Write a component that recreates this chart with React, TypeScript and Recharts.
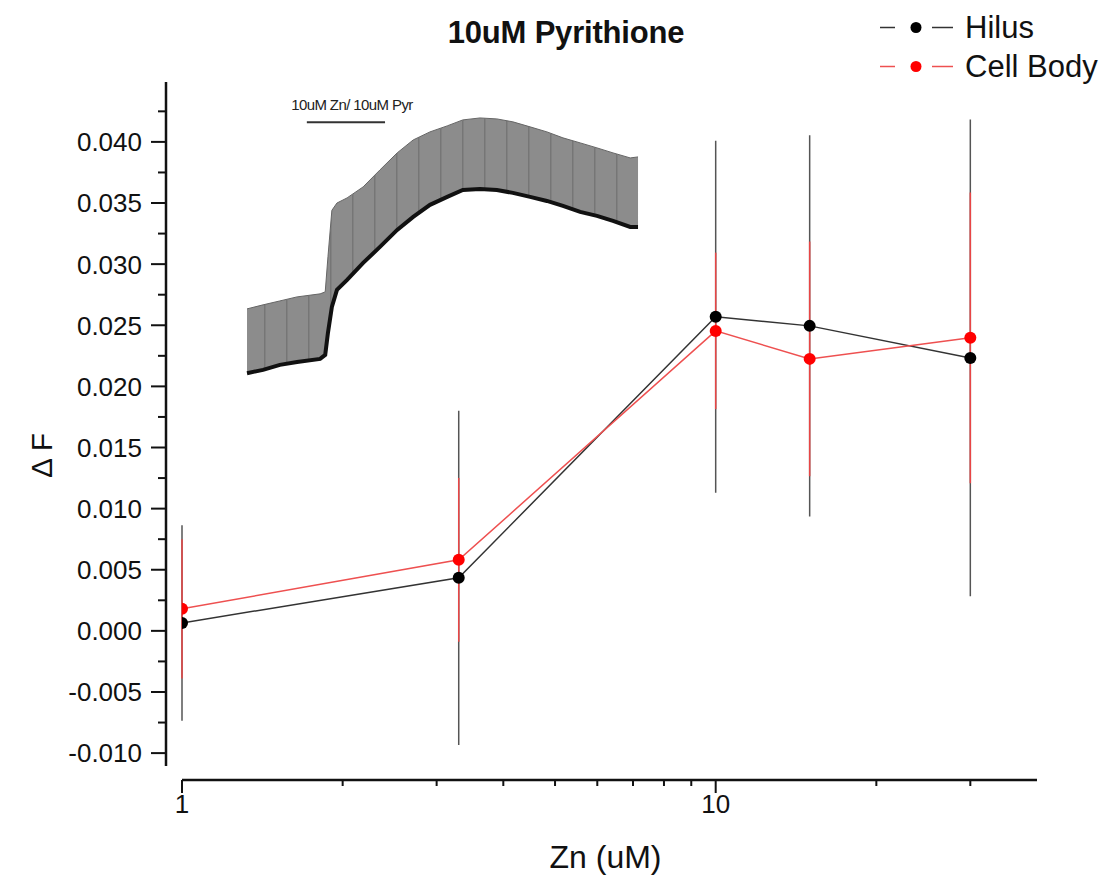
import React from 'react';
import { ComposedChart, Line, Area, XAxis, YAxis, ErrorBar, ReferenceLine, Legend } from 'recharts';

const FONT = "'Liberation Sans', Arial, sans-serif";

// Zn concentrations (uM) and mean ± error for each region
const zinc = [1, 3.3, 10, 15, 30];
const hilusMean = [0.00065, 0.00434, 0.02569, 0.02495, 0.02233];
const hilusErr = [0.008, 0.01367, 0.0144, 0.0156, 0.0195];
const cellMean = [0.0018, 0.00581, 0.02454, 0.02225, 0.02397];
const cellErr = [0.0057, 0.0067, 0.0064, 0.0096, 0.0119];

const xTicks = [1, 2, 3, 4, 5, 6, 7, 8, 9, 10, 20, 30];
const xLabeled = [1, 10];
const yTicks = [
  -0.01, -0.0075, -0.005, -0.0025, 0, 0.0025, 0.005, 0.0075, 0.01, 0.0125, 0.015,
  0.0175, 0.02, 0.0225, 0.025, 0.0275, 0.03, 0.0325, 0.035, 0.0375, 0.04, 0.0425,
];

// example fluorescence trace shown as inset (time in s, lower / upper envelope)
const traceTime = [
  0, 4.1, 8.4, 12.8, 18.7, 20.0, 20.7, 21.7, 23.0, 25.6, 29.7, 34.0, 38.4, 42.5,
  46.8, 51.2, 55.2, 59.6, 63.9, 68.0, 72.4, 76.7, 80.8, 85.2, 89.5, 93.6, 98.0, 100,
];
const traceLow = [
  0.02108, 0.02135, 0.02176, 0.022, 0.02225, 0.02258, 0.02438, 0.0265, 0.02789, 0.02871,
  0.0301, 0.03141, 0.0328, 0.03387, 0.03485, 0.0355, 0.03607, 0.03615, 0.03607, 0.03583,
  0.0355, 0.03517, 0.03476, 0.03427, 0.03395, 0.03354, 0.03304, 0.03304,
];
const traceHigh = [
  0.02634, 0.02667, 0.02699, 0.02732, 0.02757, 0.02773, 0.0306, 0.0344, 0.035, 0.03542,
  0.03632, 0.03771, 0.0391, 0.04016, 0.04082, 0.04131, 0.0418, 0.04196, 0.04188, 0.04164,
  0.04123, 0.04082, 0.04033, 0.03992, 0.03951, 0.0391, 0.03869, 0.03877,
];
const stimulus = { start: 15.3, end: 35.3, level: 0.0416, text: '10uM Zn/ 10uM Pyr' };

const series = [
  { name: 'Hilus', line: '#333333', dot: '#000000' },
  { name: 'Cell Body', line: '#ee5050', dot: '#ff0000' },
];

const data = zinc.map((zn, i) => ({
  zn,
  hilus: hilusMean[i],
  hilusErr: hilusErr[i],
  cell: cellMean[i],
  cellErr: cellErr[i],
}));

const traceData = traceTime.map((t, i) => ({
  t,
  band: [traceLow[i], traceHigh[i]],
  low: traceLow[i],
}));

const YTick = ({ x, y, payload }: any) => {
  const v = payload.value;
  const major = Math.round(v * 1000) % 5 === 0;
  return (
    <g>
      <line x1={x - (major ? 15 : 8)} x2={x} y1={y} y2={y} stroke="#111" strokeWidth={2} />
      {major && (
        <text x={x - 24} y={y} dy="0.36em" textAnchor="end" fontSize={26} fontFamily={FONT} fill="#111">
          {v.toFixed(3)}
        </text>
      )}
    </g>
  );
};

const XTick = ({ x, y, payload }: any) => {
  const major = xLabeled.includes(payload.value);
  return (
    <g>
      <line x1={x} x2={x} y1={y} y2={y + (major ? 13 : 6)} stroke="#111" strokeWidth={2} />
      {major && (
        <text x={x} y={y + 33} textAnchor="middle" fontSize={26} fontFamily={FONT} fill="#111">
          {payload.value}
        </text>
      )}
    </g>
  );
};

const renderLegend = () => (
  <div style={{ fontFamily: FONT, fontSize: 31, color: '#111' }}>
    {series.map((s) => (
      <div key={s.name} style={{ display: 'flex', alignItems: 'center', height: 39 }}>
        <svg width={85} height={39} style={{ display: 'block' }}>
          <line x1={0} x2={15} y1={19.5} y2={19.5} stroke={s.line} strokeWidth={1.5} />
          <circle cx={36} cy={19.5} r={5.5} fill={s.dot} />
          <line x1={52} x2={73} y1={19.5} y2={19.5} stroke={s.line} strokeWidth={1.5} />
        </svg>
        <span style={{ lineHeight: '39px' }}>{s.name}</span>
      </div>
    ))}
  </div>
);

export default function App() {
  return (
    <div style={{ position: 'absolute', left: 0, top: 0, background: '#fff' }}>
      <ComposedChart width={1107} height={882} data={data} margin={{ top: 82, right: 70, bottom: 42, left: 26 }}>
        <defs>
          <pattern id="traceStripes" width={22} height={10} patternUnits="userSpaceOnUse">
            <rect width={22} height={10} fill="#8c8c8c" />
            <rect x={0} width={1.5} height={10} fill="#767676" />
          </pattern>
        </defs>
        <text x={566} y={43} textAnchor="middle" fontSize={31} fontWeight="bold" fontFamily={FONT} letterSpacing={-0.2} fill="#111">
          10uM Pyrithione
        </text>

        <XAxis
          dataKey="zn"
          type="number"
          scale="log"
          domain={[1, 40]}
          allowDataOverflow
          ticks={xTicks}
          interval={0}
          padding={{ left: 16, right: 0 }}
          height={60}
          tickSize={0}
          tickMargin={0}
          tickLine={false}
          tick={<XTick />}
          axisLine={{ stroke: '#111', strokeWidth: 2.5, strokeDasharray: '0 16 2000' }}
          label={(props: any) => {
            const vb = props.viewBox;
            return (
              <text x={vb.x + vb.width / 2 + 4} y={vb.y + 88} textAnchor="middle" fontSize={32} fontFamily={FONT} fill="#111">
                Zn (uM)
              </text>
            );
          }}
        />
        <XAxis xAxisId="trace" dataKey="t" type="number" domain={[-20.72, 202.04]} allowDataOverflow hide />
        <YAxis
          type="number"
          domain={[-0.0122, 0.0449]}
          allowDataOverflow
          ticks={yTicks}
          interval={0}
          width={140}
          tickSize={0}
          tickMargin={0}
          tickLine={false}
          tick={<YTick />}
          axisLine={{ stroke: '#111', strokeWidth: 2.5, strokeDasharray: '684 1000' }}
          label={(props: any) => {
            const vb = props.viewBox;
            const cx = vb.x + 26;
            const cy = vb.y + vb.height * 0.535;
            return (
              <text x={cx} y={cy} transform={`rotate(-90 ${cx} ${cy})`} textAnchor="middle" fontSize={30} fontFamily={FONT} fill="#111">
                Δ F
              </text>
            );
          }}
        />

        <Area
          xAxisId="trace"
          data={traceData}
          dataKey="band"
          type="linear"
          fill="url(#traceStripes)"
          fillOpacity={1}
          stroke="#666"
          strokeWidth={1}
          legendType="none"
          isAnimationActive={false}
        />
        <Line
          xAxisId="trace"
          data={traceData}
          dataKey="low"
          type="linear"
          stroke="#111"
          strokeWidth={4}
          dot={false}
          legendType="none"
          isAnimationActive={false}
        />
        <ReferenceLine
          xAxisId="trace"
          segment={[
            { x: stimulus.start, y: stimulus.level },
            { x: stimulus.end, y: stimulus.level },
          ]}
          stroke="#333"
          strokeWidth={2}
          label={(props: any) => {
            const vb = props.viewBox;
            return (
              <text x={vb.x + vb.width / 2 + 6} y={vb.y - 12} textAnchor="middle" fontSize={15} letterSpacing={-0.6} fontFamily={FONT} fill="#222">
                {stimulus.text}
              </text>
            );
          }}
        />

        <Line
          dataKey="hilus"
          name="Hilus"
          type="linear"
          stroke={series[0].line}
          strokeWidth={1.5}
          dot={{ r: 6, fill: series[0].dot, stroke: series[0].dot, strokeWidth: 0 }}
          isAnimationActive={false}
        >
          <ErrorBar dataKey="hilusErr" direction="y" width={0} stroke="#555" strokeWidth={1.5} isAnimationActive={false} />
        </Line>
        <Line
          dataKey="cell"
          name="Cell Body"
          type="linear"
          stroke={series[1].line}
          strokeWidth={1.5}
          dot={{ r: 6, fill: series[1].dot, stroke: series[1].dot, strokeWidth: 0 }}
          isAnimationActive={false}
        >
          <ErrorBar dataKey="cellErr" direction="y" width={0} stroke="#e84545" strokeWidth={1.5} isAnimationActive={false} />
        </Line>

        <Legend
          layout="vertical"
          align="center"
          verticalAlign="middle"
          content={renderLegend}
          wrapperStyle={{ left: 880, top: 8, width: 230 }}
        />
      </ComposedChart>
    </div>
  );
}
